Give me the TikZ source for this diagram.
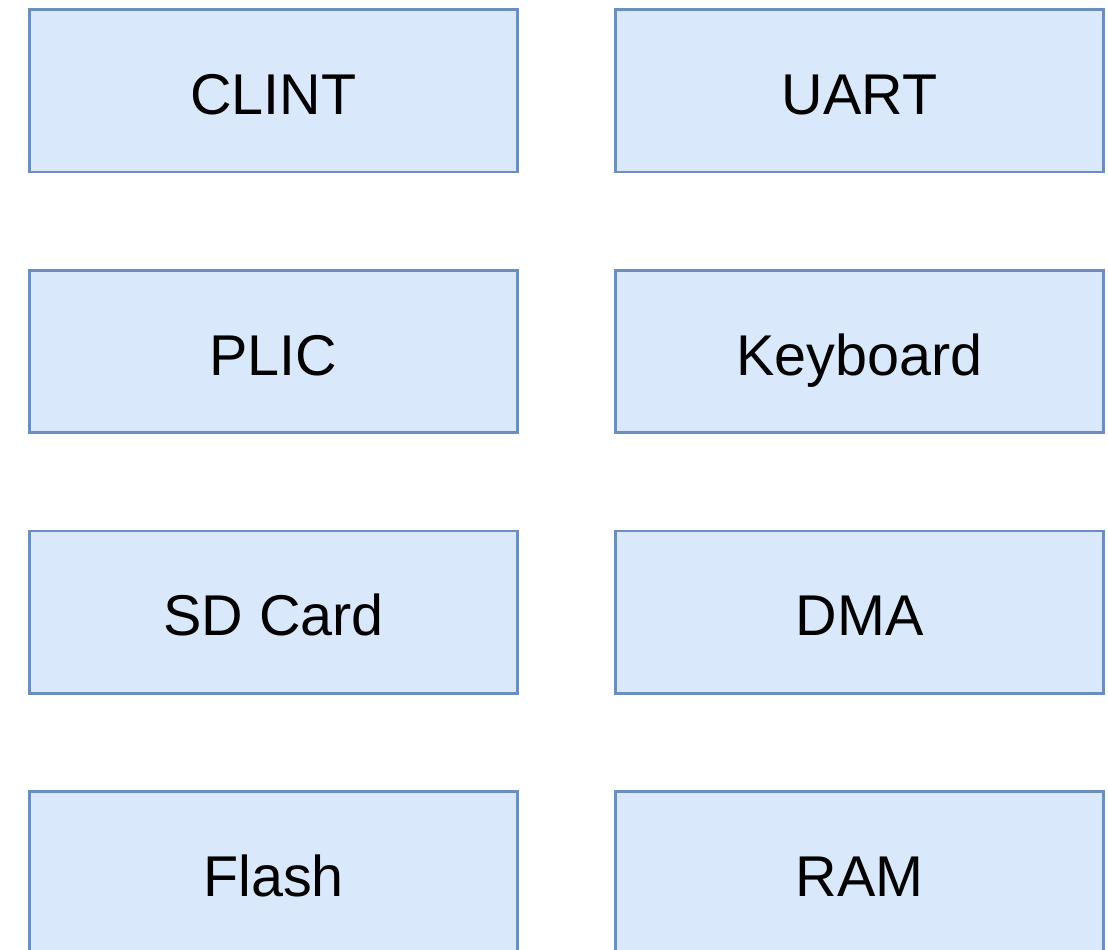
\documentclass[tikz,border=0pt]{standalone}
\usepackage{fontspec}
\setmainfont{Liberation Sans}
\definecolor{boxfill}{HTML}{DAE8FC}
\definecolor{boxdraw}{HTML}{6C8EBF}
\begin{document}
\begin{tikzpicture}[x=1pt,y=-1pt,
  dev/.style={draw=boxdraw, fill=boxfill, line width=2.6pt, rectangle,
    minimum width=488pt, minimum height=162.5pt, inner sep=0pt,
    font=\fontsize{57.5}{60}\selectfont, text=black,
    text height=47.2pt, text depth=0pt}]
\useasboundingbox (0,0) rectangle (1108,950);
\node[dev] (clint) at (273.5,90.75) {CLINT};
\node[dev] (uart)  at (859.5,90.75) {UART};
\node[dev] (plic)  at (273.5,351.5) {PLIC};
\node[dev] (kbd)   at (859.5,351.5) {Keyboard};
\node[dev] (sd)    at (273.5,612.25) {SD Card};
\node[dev] (dma)   at (859.5,612.25) {DMA};
\node[dev] (flash) at (273.5,873) {Flash};
\node[dev] (ram)   at (859.5,873) {RAM};
\end{tikzpicture}
\end{document}
